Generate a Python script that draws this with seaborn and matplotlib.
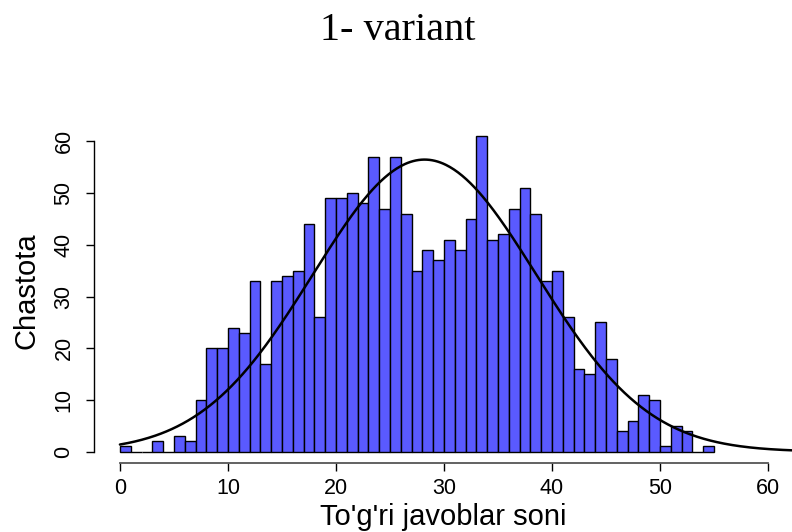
import numpy as np
import pandas as pd
import matplotlib
matplotlib.use("Agg")
import matplotlib.pyplot as plt
import seaborn as sns

# ---- data ----
bin_left = list(range(0, 55))
counts = [1, 0, 0, 2, 0, 3, 2, 10, 20, 20,
          24, 23, 33, 17, 33, 34, 35, 44, 26, 49,
          49, 50, 48, 57, 47, 57, 46, 35, 39, 37,
          41, 39, 45, 61, 41, 42, 47, 51, 46, 33,
          35, 26, 16, 15, 25, 18, 4, 6, 11, 10,
          1, 5, 4, 0, 1]
curve_mean = 28.2
curve_sd = 10.34
bin_width = 1
x_ticks = [0, 10, 20, 30, 40, 50, 60]
y_ticks = [0, 10, 20, 30, 40, 50, 60]
title_text = "1- variant"
x_label = "To'g'ri javoblar soni"
y_label = "Chastota"

sns.set_style("white")
plt.rcParams['font.family'] = ['Liberation Sans', 'DejaVu Sans']
plt.rcParams['text.color'] = 'black'
plt.rcParams['xtick.color'] = 'black'
plt.rcParams['ytick.color'] = 'black'
plt.rcParams['xtick.labelcolor'] = 'black'
plt.rcParams['ytick.labelcolor'] = 'black'

W, H = 792, 532
fig = plt.figure(figsize=(W / 100, H / 100), dpi=100)
left_px, right_px, top_px, bot_px = 94, 794, 129, 463
ax = fig.add_axes([left_px / W, 1 - bot_px / H, (right_px - left_px) / W, (bot_px - top_px) / H])

df = pd.DataFrame({"x": [b + bin_width / 2 for b in bin_left], "w": counts})
sns.histplot(data=df, x="x", weights="w", binwidth=bin_width, binrange=(0, 55),
             color="#5a5aff", alpha=1, edgecolor="black", linewidth=1, ax=ax)

n_total = sum(counts)
xs = np.linspace(0, 63, 500)
ys = n_total * bin_width * np.exp(-(xs - curve_mean) ** 2 / (2 * curve_sd ** 2)) / (curve_sd * np.sqrt(2 * np.pi))
sns.lineplot(x=xs, y=ys, color="black", linewidth=1.8, ax=ax)

ax.set_xlim(-2.4, 62.4)
ax.set_ylim(-2.2, 62.4)
ax.set_xticks(x_ticks)
ax.set_yticks(y_ticks)
ax.set_xlabel("")
ax.set_ylabel("")
for s in ["top", "right"]:
    ax.spines[s].set_visible(False)
ax.spines["left"].set_bounds(0, 60)
ax.spines["bottom"].set_bounds(0, 60)
ax.spines["left"].set_color("black")
ax.spines["bottom"].set_color("#555555")
ax.spines["left"].set_linewidth(1)
ax.spines["bottom"].set_linewidth(1.3)
ax.tick_params(axis="both", which="major", direction="out", length=6, width=1,
               color="black", labelsize=15.5, bottom=True, left=True)
ax.tick_params(axis="x", pad=5)
ax.tick_params(axis="y", pad=8)
for lab in ax.get_yticklabels():
    lab.set_rotation(90)
    lab.set_va("center")
    lab.set_ha("right")

fig.text(443 / W, 1 - 517 / H, x_label, ha="center", va="center", fontsize=21)
fig.text(27 / W, 1 - 291 / H, y_label, ha="center", va="center", rotation=90, fontsize=21)
fig.text(398 / W, 1 - 30 / H, title_text, ha="center", va="center", fontsize=29,
         family=["Liberation Serif", "DejaVu Serif"])

fig.savefig("out.png", dpi=100)
